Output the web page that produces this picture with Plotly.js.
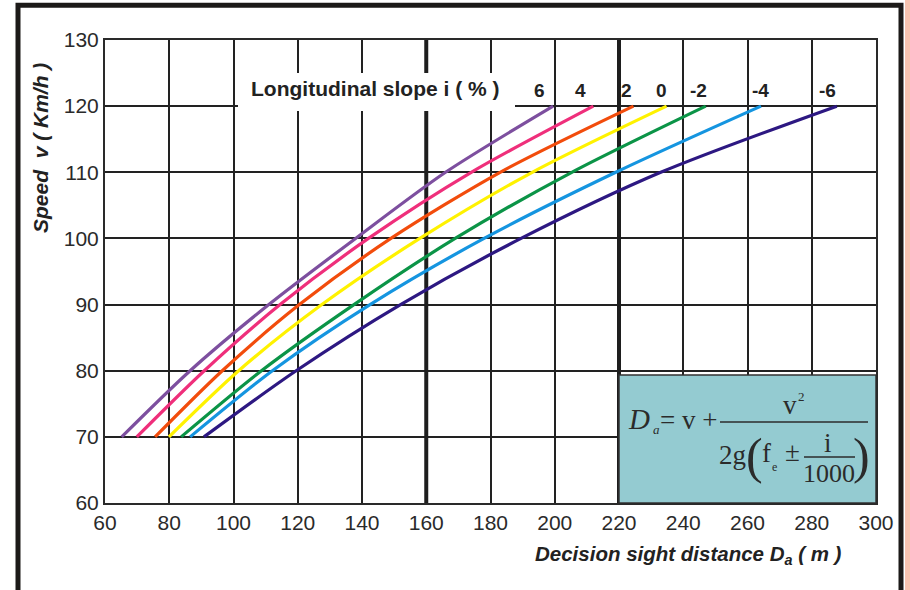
<!DOCTYPE html>
<html>
<head>
<meta charset="utf-8">
<script src="https://cdn.plot.ly/plotly-3.0.1.min.js"></script>
<style>html,body{margin:0;padding:0;background:#fff;}#chart{width:910px;height:590px;}</style>
</head>
<body>
<div id="chart"></div>
<script>
// ---- data ----
const speedV = [70, 80, 90, 100, 110, 120];
const slopeLabels = ['6', '4', '2', '0', '-2', '-4', '-6'];
const dSlope6  = [65.2, 86.5, 111.0, 138.0, 166.0, 199.5];
const dSlope4  = [69.9, 90.9, 114.5, 142.0, 174.0, 212.0];
const dSlope2  = [75.6, 96.5, 120.5, 149.0, 183.0, 224.5];
const dSlope0  = [79.9, 101.6, 127.5, 158.0, 193.0, 234.8];
const dSlopeM2 = [83.7, 108.7, 137.5, 169.0, 205.3, 247.0];
const dSlopeM4 = [86.5, 112.1, 142.5, 178.0, 219.0, 264.2];
const dSlopeM6 = [90.8, 119.5, 152.0, 189.5, 233.0, 287.8];
const xTicks = [60, 80, 100, 120, 140, 160, 180, 200, 220, 240, 260, 280, 300];
const yTicks = [60, 70, 80, 90, 100, 110, 120, 130];

const seriesD = [dSlope6, dSlope4, dSlope2, dSlope0, dSlopeM2, dSlopeM4, dSlopeM6];
const colors = ['#7d4f9f', '#ef2f7b', '#f24c0c', '#fff200', '#0b9447', '#1595e0', '#2d1882'];

const traces = seriesD.map((d, i) => ({
  x: d, y: speedV, type: 'scatter', mode: 'lines',
  name: slopeLabels[i],
  line: {color: colors[i], width: 3.2, shape: 'spline', smoothing: 0.8},
  hoverinfo: 'skip'
}));

// label positions (x in data units, along the top of the curves)
const labelX = [195.4, 207.9, 222.3, 233.1, 244.6, 263.9, 284.8];
const annotations = slopeLabels.map((t, i) => ({
  x: labelX[i], y: 122.4, xref: 'x', yref: 'y', text: '<b>' + t + '</b>', showarrow: false,
  xanchor: 'center', yanchor: 'middle',
  font: {family: 'Liberation Sans, Arial', size: 19, color: '#222'}
}));
annotations.push({
  x: 144.2, y: 122.6, xref: 'x', yref: 'y', text: '<b>Longitudinal slope i ( % )</b>', showarrow: false,
  xanchor: 'center', yanchor: 'middle',
  font: {family: 'Liberation Sans, Arial', size: 21, color: '#222'}
});
// axis titles (paper coordinates)
annotations.push({
  x: (40 - 105) / 771, y: (503 - 148) / 463, xref: 'paper', yref: 'paper',
  text: '<b><i>Speed  v ( Km/h )</i></b>', showarrow: false, textangle: -90,
  xanchor: 'center', yanchor: 'middle',
  font: {family: 'Liberation Sans, Arial', size: 21, color: '#222'}
});
annotations.push({
  x: (688 - 105) / 771, y: (503 - 555) / 463, xref: 'paper', yref: 'paper',
  text: '<b><i>Decision sight distance D<sub>a</sub> ( m )</i></b>', showarrow: false,
  xanchor: 'center', yanchor: 'middle',
  font: {family: 'Liberation Sans, Arial', size: 20.5, color: '#222'}
});

// helpers: pixel -> data
const px2x = p => 60 + (p - 105) / 3.2125;
const py2y = p => 130 - (p - 40) / 6.614;

// formula (real text)
const serif = 'Liberation Serif, Times New Roman, serif';
const fc = '#2b2b2b';
function ftext(t, px, py, size) {
  annotations.push({x: px2x(px), y: py2y(py), xref: 'x', yref: 'y', text: t, showarrow: false,
    xanchor: 'center', yanchor: 'middle', font: {family: serif, size: size, color: fc}});
}
ftext('<i>D</i>', 639, 419, 29);
ftext('<i>a</i>', 656, 429, 13);
ftext('= v +', 688, 420, 27);
ftext('v', 789.5, 405, 27);
ftext('2', 801, 396, 13);
ftext('2g', 732, 455, 27);
ftext('(', 754, 456, 50);
ftext('f', 766, 453, 27);
ftext('e', 774, 467, 12);
ftext('±', 792, 452, 27);
ftext('i', 828, 443, 27);
ftext('1000', 829, 473, 26);
ftext(')', 861, 456, 50);

const shapes = [
  // outer frame
  {type: 'rect', xref: 'paper', yref: 'paper', x0: (18 - 105) / 771, x1: (901 - 105) / 771,
   y0: -0.3, y1: (503 - 5.3) / 463, line: {color: '#1c1a18', width: 5}, fillcolor: 'rgba(0,0,0,0)', layer: 'above'},
  // pink strip at the right edge
  {type: 'rect', xref: 'paper', yref: 'paper', x0: (905 - 105) / 771, x1: (915 - 105) / 771,
   y0: -0.3, y1: 1.3, line: {width: 0}, fillcolor: '#f7c3b0', layer: 'above'},
  // thicker grid lines
  {type: 'line', xref: 'x', yref: 'y', x0: 160, x1: 160, y0: 60, y1: 130, line: {color: '#1e1e1e', width: 4}, layer: 'between'},
  {type: 'line', xref: 'x', yref: 'y', x0: 220, x1: 220, y0: 60, y1: 130, line: {color: '#1e1e1e', width: 4}, layer: 'between'},
  // white area behind the legend title
  {type: 'rect', xref: 'x', yref: 'y', x0: px2x(238), x1: px2x(515), y0: py2y(111), y1: py2y(73),
   line: {width: 0}, fillcolor: '#ffffff', layer: 'above'},
  // formula box
  {type: 'rect', xref: 'x', yref: 'y', x0: 220, x1: 300, y0: 60, y1: py2y(375),
   line: {color: '#333', width: 1.5}, fillcolor: '#94cbd1', layer: 'above'},
  // fraction lines
  {type: 'line', xref: 'x', yref: 'y', x0: px2x(720), x1: px2x(868), y0: py2y(422), y1: py2y(422), line: {color: fc, width: 1.5}, layer: 'above'},
  {type: 'line', xref: 'x', yref: 'y', x0: px2x(804), x1: px2x(855), y0: py2y(457), y1: py2y(457), line: {color: fc, width: 1.5}, layer: 'above'}
];

const axisCommon = {
  showgrid: true, gridcolor: '#222', gridwidth: 2,
  showline: true, linecolor: '#2a2a2a', linewidth: 2, mirror: true,
  zeroline: false, ticks: '', fixedrange: true,
  tickfont: {family: 'Liberation Sans, Arial', size: 21, color: '#2a2a2a'}
};

const layout = {
  width: 910, height: 590,
  margin: {l: 105, r: 34, t: 40, b: 87},
  paper_bgcolor: '#ffffff', plot_bgcolor: '#ffffff',
  showlegend: false,
  xaxis: Object.assign({}, axisCommon, {range: [60, 300], tickvals: xTicks, ticktext: xTicks.map(String)}),
  yaxis: Object.assign({}, axisCommon, {range: [60, 130], tickvals: yTicks, ticktext: yTicks.map(String)}),
  annotations: annotations,
  shapes: shapes
};

Plotly.newPlot('chart', traces, layout, {staticPlot: true, displayModeBar: false});
</script>
</body>
</html>
